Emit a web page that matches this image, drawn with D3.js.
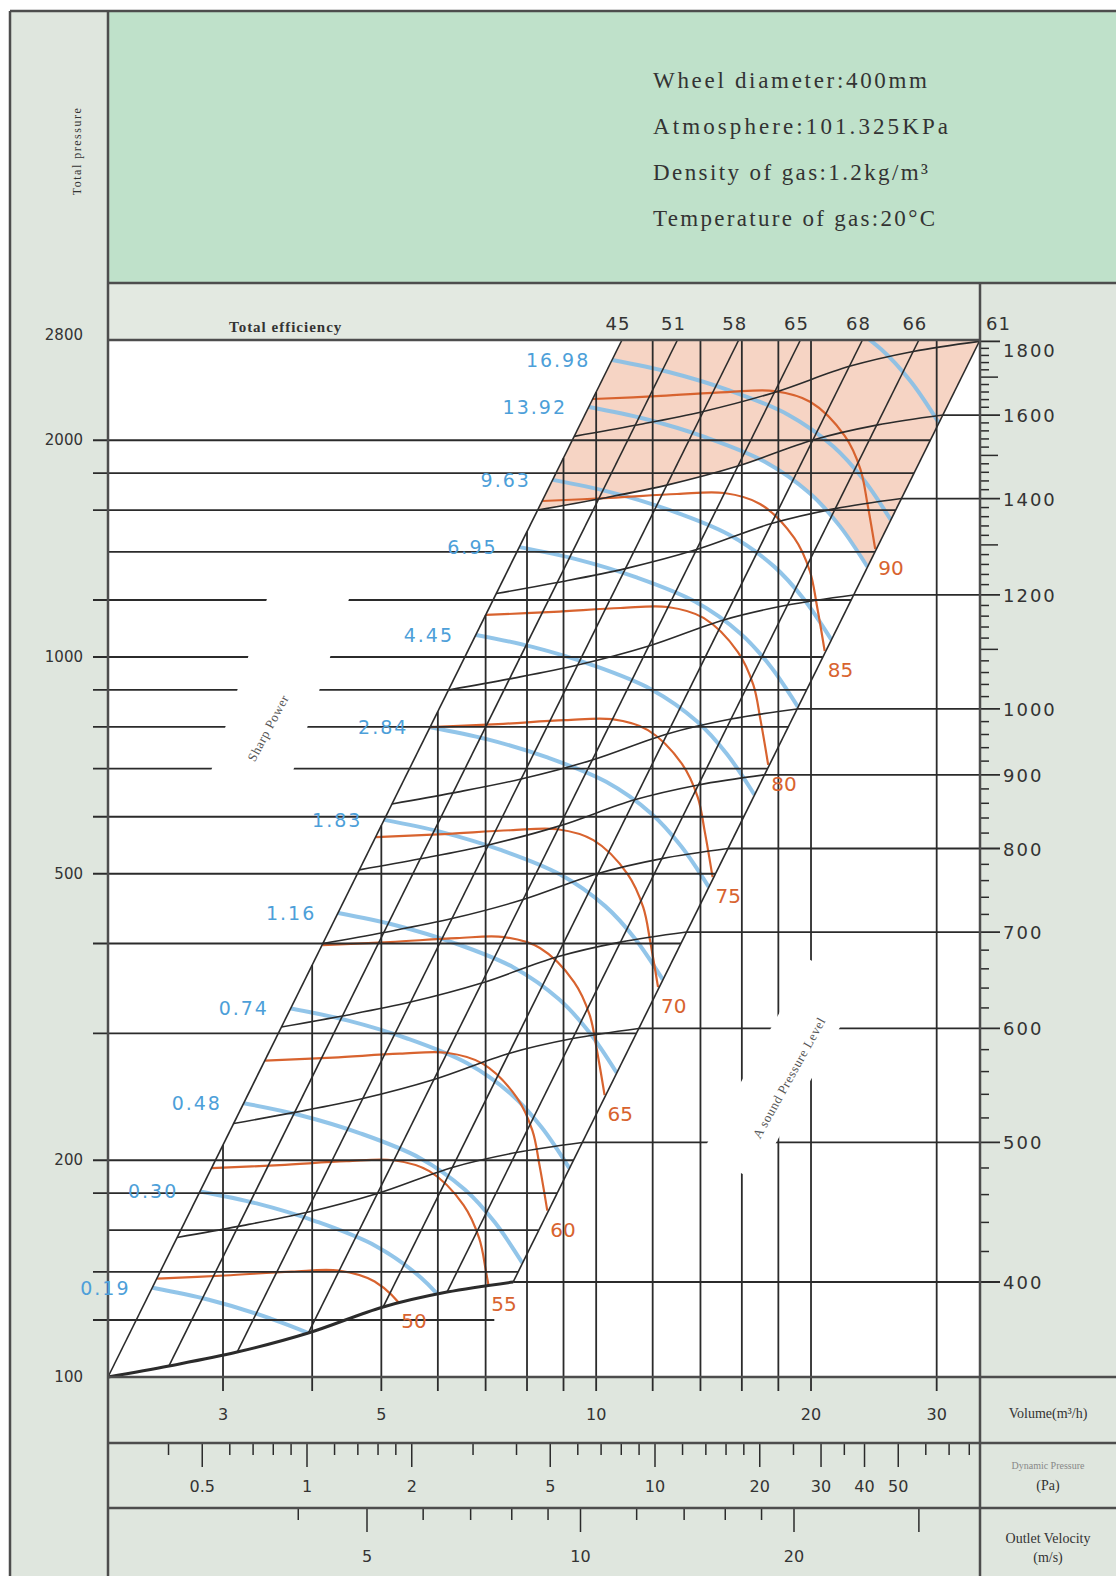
<!DOCTYPE html>
<meta charset="utf-8">
<style>
body{ margin:0; background:#fff; }
svg{ display:block; background:#fff; }
text{ font-family:"DejaVu Sans", sans-serif; }
text.serif, .serif text{ font-family:"Liberation Serif", "DejaVu Serif", serif; }
</style>
<svg width="1116" height="1576"></svg>
<script src="https://d3js.org/d3.v7.min.js"></script>
<script>

// volume in 1000 m3/h, pressure in Pa
var volumeLabels = [3, 5, 10, 20, 30];
var volumeGrid = [3, 4, 5, 6, 7, 8, 9, 10, 12, 14, 16, 18, 20, 30];
var pressureLabels = [100, 200, 500, 1000, 2000, 2800];
var pressureGrid = [120, 140, 160, 180, 200, 300, 400, 500, 600, 700, 800, 900, 1000, 1200, 1400, 1600, 1800, 2000];
var pressureNoTick = [160, 1400];
var speeds = [400, 500, 600, 700, 800, 900, 1000, 1200, 1400, 1600, 1800];

// operating points at 400 r/min, one on each efficiency line
var baseQ = [2.07, 2.52, 3.14, 3.95, 5.03, 6.18, 7.65];
var baseP = [100, 103.6, 108.3, 115.1, 125.1, 131.2, 135.5];
var efficiency = [45, 51, 58, 65, 68, 66, 61];

// shaft power curve as read for 0.48 kW
var powerQ = [3.21, 3.85, 4.67, 5.66, 6.55, 7.21, 7.88];
var powerP = [240, 231, 218, 201.5, 182, 164, 144];
// last curve starts above the chart top, its label is not shown
var powerLabels = ["0.19", "0.30", "0.48", "0.74", "1.16", "1.83", "2.84", "4.45", "6.95", "9.63", "13.92", "16.98", ""];
var powerStartP = [133, 181, 240, 325, 441, 594, 799, 1073, 1421, 1762, 2224, 2585, 3525];

// A sound pressure level curve as read for 60 dB
var soundQ = [3.44, 4.28, 5.31, 6.18, 6.94, 7.75, 8.15, 8.34, 8.55];
var soundP = [275.6, 278.3, 281.8, 282.7, 273, 244.9, 220.3, 197, 170.6];
var soundLabels = [50, 55, 60, 65, 70, 75, 80, 85, 90];
var soundStartP = [137, 195, 275, 398, 562, 799, 1144, 1647, 2282];

var dynTicks = [0.4, 0.5, 0.6, 0.7, 0.8, 0.9, 1, 1.2, 1.4, 1.6, 1.8, 2, 3, 4, 5, 6, 7, 8, 9, 10, 12, 14, 16, 18, 20, 25, 30, 35, 40, 50, 60, 70, 80];
var dynLabels = [0.5, 1, 2, 5, 10, 20, 30, 40, 50];
var velTicks = [4, 5, 6, 7, 8, 9, 10, 12, 14, 16, 18, 20, 30];
var velLabels = [5, 10, 20];

var headerLines = ["Wheel diameter:400mm", "Atmosphere:101.325KPa", "Density of gas:1.2kg/m\u00b3", "Temperature of gas:20\u00b0C"];

var svg = d3.select("svg");
var L = 108, R = 980, T = 340, B = 1377;
var ink = "#2b2b2b", frame = "#4d4d4d";

var x = d3.scaleLog().domain([2.07, 34.5]).range([L, R]);
var y = d3.scaleLog().domain([100, 1000]).range([B, 657]);
var dyn = d3.scaleLog().domain([1, 10]).range([307, 655]);
var vel = d3.scaleLog().domain([5, 20]).range([367, 794]);
var pTop = y.invert(T);

var lineGen = d3.line().curve(d3.curveCatmullRom.alpha(0.5));

// fan laws: Q ~ n, p ~ n^2
function family(Q, P, s) {
  return Q.map(function(q, i) { return [x(q * s), y(P[i] * s * s)]; });
}
function rpmY(n) { return y(baseP[6] * Math.pow(n / speeds[0], 2)); }

var fanCurves = speeds.map(function(n) { return family(baseQ, baseP, n / speeds[0]); });
var effLines = baseQ.map(function(q, i) {
  return [[x(q), y(baseP[i])], [x(q * Math.sqrt(pTop / baseP[i])), T]];
});
var powerCurves = powerStartP.map(function(sp) { return family(powerQ, powerP, Math.sqrt(sp / powerP[0])); });
var soundCurves = soundStartP.map(function(sp) { return family(soundQ, soundP, Math.sqrt(sp / soundP[0])); });

// ---- backgrounds ----
svg.append("rect").attr("x", 10).attr("y", 11).attr("width", 98).attr("height", 1565).attr("fill", "#dfe6de");
svg.append("rect").attr("x", L).attr("y", 11).attr("width", 1116 - L).attr("height", 272).attr("fill", "#bfe1ca");
svg.append("rect").attr("x", L).attr("y", 283).attr("width", R - L).attr("height", T - 283).attr("fill", "#e3e9e1");
svg.append("rect").attr("x", R).attr("y", 283).attr("width", 1116 - R).attr("height", 1576 - 283).attr("fill", "#dfe6de");
svg.append("rect").attr("x", L).attr("y", B).attr("width", R - L).attr("height", 1576 - B).attr("fill", "#dfe6de");

// parallelogram region
var regionD = lineGen(fanCurves[0].slice().reverse()) + "L" + effLines[0][1] + "L" + effLines[6][1] + "Z";
svg.append("defs").append("clipPath").attr("id", "region").append("path").attr("d", regionD);
var regionPath = svg.append("path").attr("d", regionD).attr("fill", "none").attr("stroke", "none");

// pink zone: above the 1600 r/min curve and the 13.92 kW curve
function capAbove(pts) {
  var a = pts[0], b = pts[pts.length - 1];
  return lineGen(pts) + "L" + [b[0] + 150, b[1]] + "L" + [b[0] + 150, 300] +
    "L" + [a[0] - 150, 300] + "L" + [a[0] - 150, a[1]] + "Z";
}
var pink = svg.append("g").attr("clip-path", "url(#region)").attr("fill", "#f6d4c4");
pink.append("path").attr("d", capAbove(fanCurves[speeds.indexOf(1600)]));
pink.append("path").attr("d", capAbove(powerCurves[powerLabels.indexOf("13.92")]));

// shaft power and sound curves
var curves = svg.append("g").attr("clip-path", "url(#region)").attr("fill", "none");
curves.selectAll(".pw").data(powerCurves).enter().append("path")
  .attr("d", lineGen).attr("stroke", "#86bfe7").attr("stroke-width", 4).attr("opacity", 0.9);
var redPaths = curves.selectAll(".snd").data(soundCurves).enter().append("path")
  .attr("d", lineGen).attr("stroke", "#d8632f").attr("stroke-width", 2.2);

// ---- grid ----
var grid = svg.append("g").attr("stroke", ink).attr("stroke-width", 1.8);
volumeGrid.forEach(function(q) {
  var top = Math.max(T, y(baseP[0] * Math.pow(q / baseQ[0], 2)));
  grid.append("line").attr("x1", x(q)).attr("x2", x(q)).attr("y1", top).attr("y2", B + 14);
});
pressureGrid.forEach(function(p) {
  var xe = x(baseQ[6] * Math.sqrt(p / baseP[6]));
  grid.append("line").attr("x1", pressureNoTick.indexOf(p) >= 0 ? L : 93).attr("x2", xe)
    .attr("y1", y(p)).attr("y2", y(p));
});
fanCurves.forEach(function(c) {
  var e = c[c.length - 1];
  grid.append("line").attr("x1", e[0]).attr("x2", R + 20).attr("y1", e[1]).attr("y2", e[1]);
});

// efficiency lines and fan curves
var lines = svg.append("g").attr("fill", "none").attr("stroke", ink);
effLines.forEach(function(l) {
  lines.append("line").attr("x1", l[0][0]).attr("y1", l[0][1]).attr("x2", l[1][0]).attr("y2", l[1][1]).attr("stroke-width", 1.6);
});
fanCurves.forEach(function(c, i) {
  lines.append("path").attr("d", lineGen(c)).attr("stroke-width", i === 0 ? 3 : 1.6);
});

// right axis: speed
var ax = svg.append("g").attr("stroke", ink).attr("stroke-width", 1.5);
d3.range(speeds[0], speeds[speeds.length - 1] + 1, 20).forEach(function(n) {
  if (speeds.indexOf(n) >= 0) return;
  var len = (n > 1000 && n % 100 === 0) ? 18 : 9;
  ax.append("line").attr("x1", R).attr("x2", R + len).attr("y1", rpmY(n)).attr("y2", rpmY(n));
});
svg.append("g").selectAll("text").data(speeds).enter().append("text")
  .attr("x", R + 23).attr("y", function(n) { return Math.max(rpmY(n) + 7, 357); })
  .attr("font-size", 18).attr("letter-spacing", 2).attr("fill", "#333").text(function(n) { return n; });

// bottom scales
var bt = svg.append("g").attr("stroke", ink).attr("stroke-width", 1.5);
dynTicks.forEach(function(v) {
  var len = dynLabels.indexOf(v) >= 0 ? 24 : 12;
  bt.append("line").attr("x1", dyn(v)).attr("x2", dyn(v)).attr("y1", 1443).attr("y2", 1443 + len);
});
velTicks.forEach(function(v) {
  var len = (velLabels.indexOf(v) >= 0 || v === 30) ? 24 : 12;
  bt.append("line").attr("x1", vel(v)).attr("x2", vel(v)).attr("y1", 1508).attr("y2", 1508 + len);
});
var bl = svg.append("g").attr("font-size", 16).attr("fill", "#333").attr("text-anchor", "middle");
volumeLabels.forEach(function(v) { bl.append("text").attr("x", x(v)).attr("y", 1420).text(v); });
dynLabels.forEach(function(v) { bl.append("text").attr("x", dyn(v)).attr("y", 1492).text(v); });
velLabels.forEach(function(v) { bl.append("text").attr("x", vel(v)).attr("y", 1562).text(v); });

// ---- frame ----
var fr = svg.append("g").attr("stroke", frame).attr("stroke-width", 2.5);
[[10, 11, 10, 1576], [10, 11, 1116, 11], [L, 11, L, 1576], [L, 283, 1116, 283], [L, T, R, T],
 [R, 283, R, 1576], [L, B, 1116, B], [L, 1443, 1116, 1443], [L, 1508, 1116, 1508]].forEach(function(s) {
  fr.append("line").attr("x1", s[0]).attr("y1", s[1]).attr("x2", s[2]).attr("y2", s[3]);
});

// ---- rotated notes with white gaps ----
function note(cx, cy, len, wid, ang, tx, ty, tang, label) {
  svg.append("rect").attr("x", -len / 2).attr("y", -wid / 2).attr("width", len).attr("height", wid)
    .attr("fill", "#fff").attr("transform", "translate(" + cx + "," + cy + ") rotate(" + ang + ")");
  svg.append("text").attr("class", "serif").attr("text-anchor", "middle").attr("font-size", 13)
    .attr("letter-spacing", 0.6).attr("fill", "#555")
    .attr("transform", "translate(" + tx + "," + ty + ") rotate(" + tang + ")").text(label);
}
note(280, 685, 220, 78, -72, 272, 730, -62, "Sharp Power");
note(782, 1070, 220, 60, -61, 793, 1080, -61, "A sound Pressure Level");

// ---- labels ----
svg.append("g").selectAll("text").data(pressureLabels).enter().append("text")
  .attr("x", 83).attr("y", function(p) { return y(p) + 5; }).attr("text-anchor", "end")
  .attr("font-size", 15).attr("fill", "#333").text(function(p) { return p; });

effLines.forEach(function(l, i) {
  var last = i === effLines.length - 1;
  svg.append("text").attr("x", last ? l[1][0] + 6 : l[1][0] - 4).attr("y", 330)
    .attr("text-anchor", last ? "start" : "middle").attr("font-size", 18).attr("letter-spacing", 1)
    .attr("fill", "#333").text(efficiency[i]);
});

powerCurves.forEach(function(c, i) {
  if (!powerLabels[i]) return;
  svg.append("text").attr("x", c[0][0] - 22).attr("y", c[0][1] + 7).attr("text-anchor", "end")
    .attr("font-size", 19).attr("letter-spacing", 2).attr("fill", "#4d9fd9").text(powerLabels[i]);
});

var regionNode = regionPath.node();
redPaths.each(function(c, i) {
  var len = this.getTotalLength(), pt = this.getPointAtLength(len);
  for (var s = len; s > 0; s -= 1) {
    pt = this.getPointAtLength(s);
    if (regionNode.isPointInFill(new DOMPoint(pt.x, pt.y))) break;
  }
  svg.append("text").attr("x", pt.x + 3).attr("y", pt.y + 26).attr("font-size", 20)
    .attr("fill", "#d8632f").text(soundLabels[i]);
});

// ---- header and side captions ----
var headerWidth = [274, 295, 275, 282];
headerLines.forEach(function(t, i) {
  svg.append("text").attr("class", "serif").attr("x", 653).attr("y", 88 + i * 46)
    .attr("font-size", 23).attr("fill", "#333").attr("textLength", headerWidth[i])
    .attr("lengthAdjust", "spacing").text(t);
});
svg.append("text").attr("class", "serif").attr("x", 229).attr("y", 332).attr("font-size", 15)
  .attr("letter-spacing", 1).attr("fill", "#333").attr("font-weight", "bold").text("Total efficiency");
svg.append("text").attr("class", "serif").attr("text-anchor", "middle").attr("font-size", 12)
  .attr("letter-spacing", 1.5).attr("fill", "#333").attr("transform", "translate(81,151) rotate(-90)")
  .text("Total pressure");

var side = svg.append("g").attr("class", "serif").attr("text-anchor", "middle").attr("fill", "#333");
side.append("text").attr("x", 1048).attr("y", 1418).attr("font-size", 14).text("Volume(m\u00b3/h)");
side.append("text").attr("x", 1048).attr("y", 1469).attr("font-size", 10).attr("fill", "#888").text("Dynamic Pressure");
side.append("text").attr("x", 1048).attr("y", 1490).attr("font-size", 14).text("(Pa)");
side.append("text").attr("x", 1048).attr("y", 1543).attr("font-size", 14).text("Outlet Velocity");
side.append("text").attr("x", 1048).attr("y", 1562).attr("font-size", 14).text("(m/s)");

</script>
